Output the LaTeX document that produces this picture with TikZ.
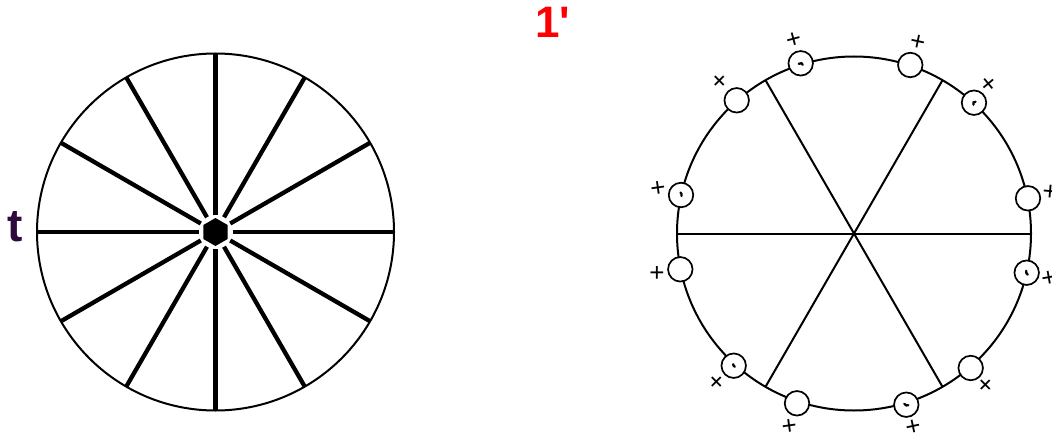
\documentclass[tikz,border=0pt]{standalone}
\usepackage{fontspec}
\setmainfont{Liberation Sans}
\newfontfamily\plainsans{Liberation Sans}
\usetikzlibrary{shapes.geometric}
\definecolor{tpurple}{HTML}{2E0A3C}
\tikzset{
  x=1pt,y=-1pt,
  wheelrim/.style={draw=black,line width=2pt,circle,inner sep=0pt,minimum size=#1,outer sep=0pt},
  hubgap/.style={circle,inner sep=0pt,minimum size=34pt,outer sep=0pt},
  hubhex/.style={regular polygon,regular polygon sides=6,shape border rotate=30,fill=black,inner sep=0pt,minimum size=28pt,outer sep=0pt},
  thickspoke/.style={line width=4.3pt},
  thinspoke/.style={line width=2pt},
  pole/.style={circle,draw=black,fill=white,line width=1.7pt,inner sep=0pt,minimum size=24.5pt,outer sep=0pt},
  plusmark/.style={font=\fontsize{26}{26}\selectfont,inner sep=0pt},
  polemark/.style={line width=2.3pt,line cap=round},
  tlabel/.style={font=\bfseries\fontsize{46}{46}\selectfont,text=tpurple,inner sep=0pt},
  onelabel/.style={font=\plainsans\bfseries\fontsize{44}{44}\selectfont,text=red,inner sep=0pt},
}
\begin{document}
\begin{tikzpicture}
\useasboundingbox (0,0) rectangle (1052,436);
% left wheel
\node[wheelrim=357pt] (wheelL) at (215.5,232) {};
\node[hubgap] (gapL) at (215.5,232) {};
\node[hubhex] (hubL) at (215.5,232) {};
\foreach \a in {0,30,...,330}{
  \draw[thickspoke] (gapL.\a) -- (wheelL.\a);
}
\node[tlabel] (tL) at (15,227) {t};
\node[onelabel] (oneL) at (552.5,22.5) {1'};
% right wheel
\node[wheelrim=354pt] (wheelR) at (854,233.5) {};
\node[circle,inner sep=0pt,minimum size=0pt,outer sep=0pt] (centerR) at (854,233.5) {};
\foreach \a in {0,60,...,300}{
  \draw[thinspoke] (centerR) -- (wheelR.\a);
}
% poles: name/x/y
\foreach \n/\x/\y in {p1/800.7/63.3,p2/910.3/65,p3/974/102.7,p4/1028/198.3,p5/736.7/100.3,p6/681/195,
  p7/680.3/269.3,p8/1026.7/272.7,p9/733.7/365.7,p10/970.7/368,p11/797/403.3,p12/906.3/404.7}{
  \node[pole] (\n) at (\x,\y) {};
}
% little marks inside some poles
\draw[polemark] ([xshift=-2pt,yshift=-0.5pt]p1.center) .. controls ([xshift=0pt,yshift=0.8pt]p1.center) and ([xshift=2pt,yshift=0pt]p1.center) .. ([xshift=2pt,yshift=-1.5pt]p1.center);
\draw[polemark] ([xshift=-0.5pt,yshift=-2pt]p3.center) .. controls ([xshift=-1.5pt,yshift=0pt]p3.center) and ([xshift=0pt,yshift=1pt]p3.center) .. ([xshift=1.5pt,yshift=1pt]p3.center);
\draw[polemark] ([xshift=0.5pt,yshift=-1pt]p6.center) .. controls ([xshift=1pt,yshift=0.5pt]p6.center) and ([xshift=0.5pt,yshift=1.5pt]p6.center) .. ([xshift=-0.5pt,yshift=2.5pt]p6.center);
\draw[polemark] ([xshift=1pt,yshift=-2pt]p8.center) .. controls ([xshift=-0.5pt,yshift=-1.5pt]p8.center) and ([xshift=-0.5pt,yshift=0.5pt]p8.center) .. ([xshift=-0.5pt,yshift=2pt]p8.center);
\draw[polemark] ([xshift=-0.5pt,yshift=1.5pt]p9.center) .. controls ([xshift=-1pt,yshift=0.5pt]p9.center) and ([xshift=0.5pt,yshift=-0.5pt]p9.center) .. ([xshift=1pt,yshift=-1pt]p9.center);
\draw[polemark] ([xshift=-2pt,yshift=0.8pt]p12.center) .. controls ([xshift=-1pt,yshift=-1pt]p12.center) and ([xshift=1pt,yshift=-1pt]p12.center) .. ([xshift=2pt,yshift=-0.5pt]p12.center);
% plus signs: name/x/y/rotation
\foreach \n/\x/\y/\r in {m1/793.7/40.7/15,m2/917.7/42.7/-12,m3/989.7/85.3/40,m4/720.7/82.3/45,m5/658/189.3/8,
  m6/1050/193/-5,m7/657/274/0,m8/1049/278.3/10,m9/717.3/383/45,m10/986.7/386/45,m11/789.3/426.7/8,m12/913.3/428/12}{
  \node[plusmark,rotate=\r] (\n) at (\x,\y) {+};
}
\end{tikzpicture}
\end{document}
